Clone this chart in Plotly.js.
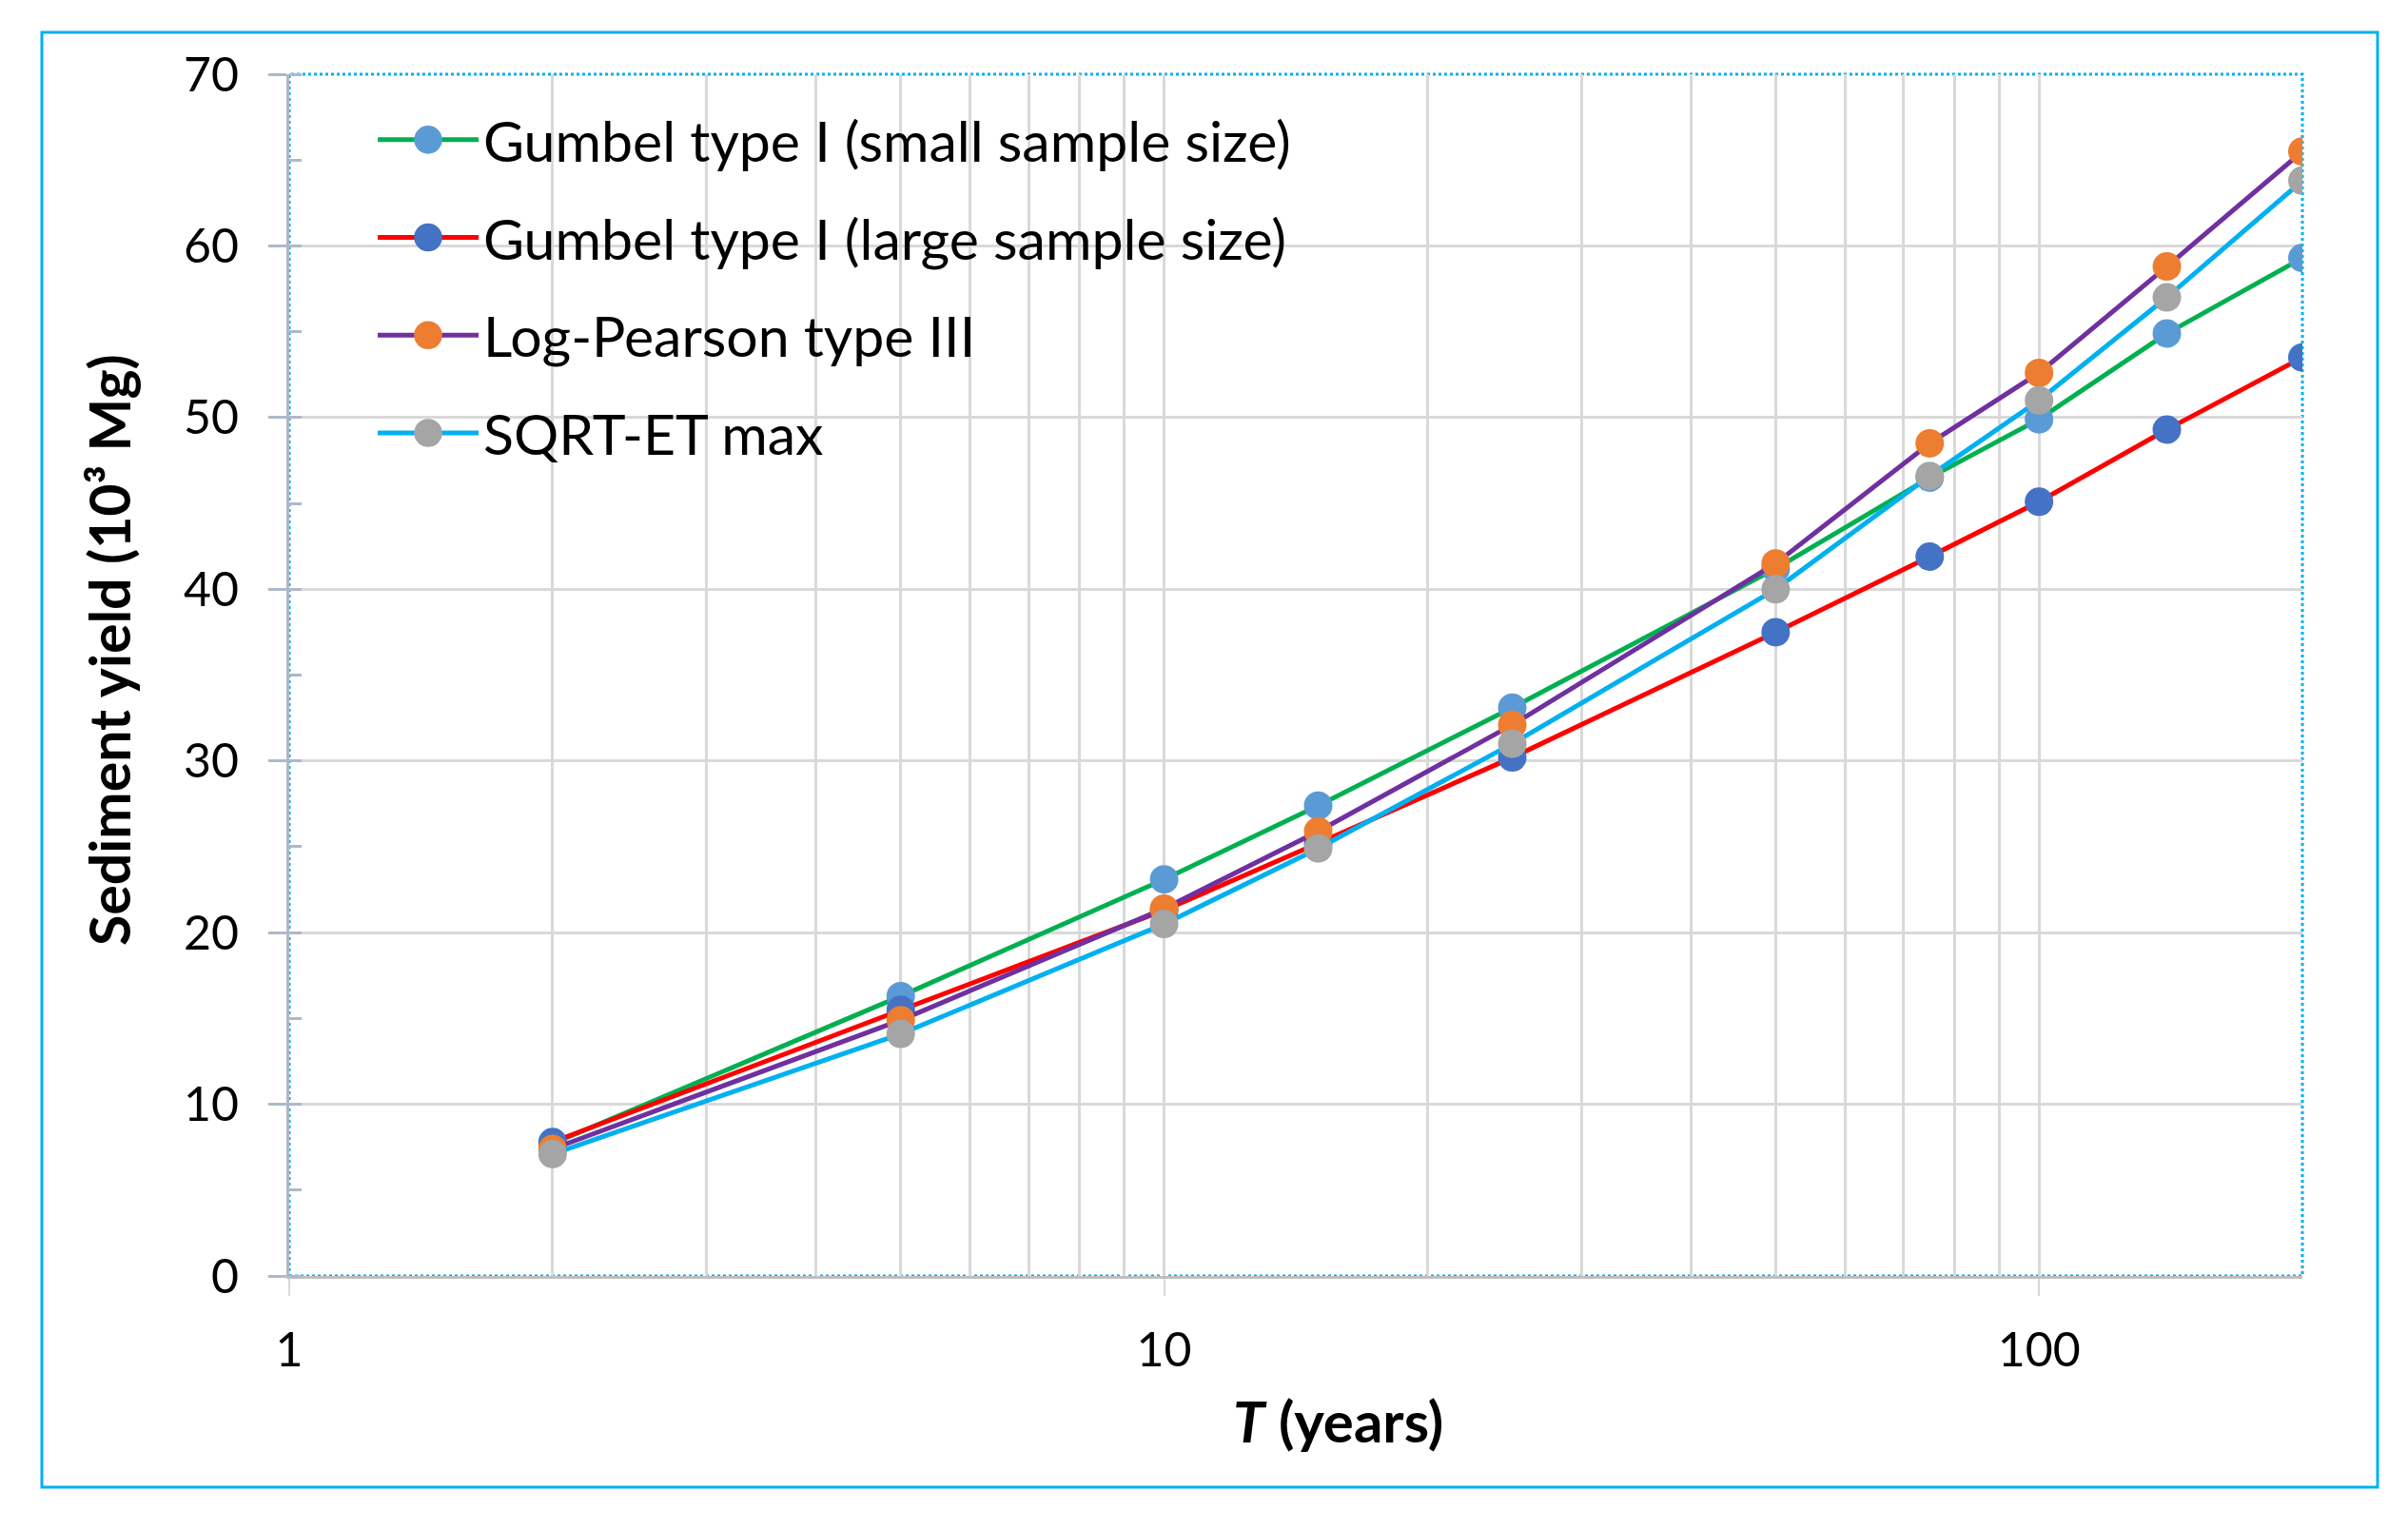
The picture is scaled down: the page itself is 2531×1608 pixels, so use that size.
<!DOCTYPE html>
<html>
<head>
<meta charset="utf-8">
<script src="https://cdn.plot.ly/plotly-3.0.1.min.js"></script>
<style>
  html, body { margin: 0; padding: 0; background: #fff; }
  #chart { width: 2531px; height: 1608px; }
</style>
</head>
<body>
<div id="chart"></div>
<script>
// Return period T (years)
const T = [2, 5, 10, 15, 25, 50, 75, 100, 140, 200];
// Sediment yield (10^3 Mg)
const gumbelSmall = [7.7, 16.3, 23.1, 27.4, 33.1, 41.2, 46.5, 49.9, 54.9, 59.3];
const gumbelLarge = [7.8, 15.5, 21.3, 25.2, 30.2, 37.5, 41.9, 45.1, 49.3, 53.5];
const logPearson  = [7.4, 14.9, 21.4, 25.9, 32.1, 41.5, 48.5, 52.6, 58.8, 65.5];
const sqrtEtMax   = [7.1, 14.1, 20.5, 24.9, 31.0, 40.0, 46.6, 51.0, 57.0, 63.8];

const seriesNames = [
  'Gumbel type I (small sample size)',
  'Gumbel type I (large sample size)',
  'Log-Pearson type III',
  'SQRT-ET max'
];
const seriesValues = [gumbelSmall, gumbelLarge, logPearson, sqrtEtMax];
const lineColors = ['#00B050', '#FF0000', '#7030A0', '#00B0F0'];
const markerColors = ['#5B9BD5', '#4472C4', '#ED7D31', '#A5A5A5'];

const FONT = 'Lato, "Open Sans", sans-serif';

const traces = seriesValues.map((vals, i) => ({
  type: 'scatter',
  mode: 'lines+markers',
  name: seriesNames[i],
  legendgroup: 'g' + i,
  x: T,
  y: vals,
  line: { color: lineColors[i], width: 5 },
  marker: { color: markerColors[i], size: 30, line: { width: 0 } }
}));

const W = 2531, H = 1608;
const mL = 304, mR = 111, mT = 78, mB = 267;
const pw = W - mL - mR, ph = H - mT - mB;
const px = v => (v - mL) / pw;
const py = v => (H - mB - v) / ph;

const layout = {
  width: W, height: H,
  paper_bgcolor: '#ffffff',
  plot_bgcolor: '#ffffff',
  margin: { l: mL, r: mR, t: mT, b: mB, pad: 0 },
  font: { family: FONT, color: '#000000', size: 50 },
  showlegend: true,
  legend: {
    x: px(392), y: py(102), xanchor: 'left', yanchor: 'top',
    bgcolor: 'rgba(255,255,255,0)', borderwidth: 0,
    font: { family: FONT, size: 59, color: '#000000' },
    traceorder: 'grouped', tracegroupgap: 23,
    itemwidth: 106
  },
  xaxis: {
    type: 'log',
    range: [0, Math.log10(200)],
    dtick: 1,
    tickformat: 'd',
    showgrid: true, gridcolor: '#D9D9D9', gridwidth: 3,
    minor: { dtick: 'D1', showgrid: true, gridcolor: '#D9D9D9', gridwidth: 3, ticks: '' },
    showline: true, linecolor: '#BFBFBF', linewidth: 3,
    ticks: 'outside', ticklen: 18, tickwidth: 2, tickcolor: '#D9D9D9',
    ticklabelstandoff: 14,
    tickfont: { family: FONT, size: 50, color: '#000' },
    zeroline: false
  },
  yaxis: {
    range: [0, 70],
    dtick: 10,
    showgrid: true, gridcolor: '#D9D9D9', gridwidth: 3,
    showline: true, linecolor: '#ADB9CA', linewidth: 3,
    ticks: 'outside', ticklen: 19, tickwidth: 3, tickcolor: '#ADB9CA',
    minor: { dtick: 5, ticks: 'inside', ticklen: 13, tickwidth: 3, tickcolor: '#ADB9CA', showgrid: false },
    ticklabelstandoff: 21,
    tickfont: { family: FONT, size: 50, color: '#000' },
    zeroline: false
  },
  annotations: [
    { xref: 'paper', yref: 'paper', x: px(1406), y: py(1493), xanchor: 'center', yanchor: 'middle',
      showarrow: false, text: '<b><i>T</i> (years)</b>',
      font: { family: FONT, size: 60, color: '#000' } },
    { xref: 'paper', yref: 'paper', x: px(114), y: py(683), xanchor: 'center', yanchor: 'middle',
      showarrow: false, textangle: -90, text: '<b>Sediment yield (10³ Mg)</b>',
      font: { family: FONT, size: 59, color: '#000' } }
  ],
  shapes: [
    // outer chart frame
    { type: 'rect', xref: 'paper', yref: 'paper', layer: 'above',
      x0: px(44), x1: px(2499), y0: py(1563), y1: py(34),
      line: { color: '#00B0F0', width: 3 } },
    // plot area dotted frame
    { type: 'rect', xref: 'paper', yref: 'paper', layer: 'below',
      x0: 0, x1: 1, y0: 0, y1: 1,
      line: { color: '#00B0F0', width: 3, dash: 'dot' } },
    // legend background (hides gridlines behind the legend)
    { type: 'rect', xref: 'x domain', yref: 'y domain', layer: 'below',
      x0: px(320), x1: px(1409), y0: py(510), y1: py(100),
      fillcolor: '#ffffff', line: { width: 0 } }
  ]
};

Plotly.newPlot('chart', traces, layout, { displayModeBar: false, staticPlot: true }).then(gd => {
  // enlarge legend markers to match the plotted marker size
  gd.querySelectorAll('.legend .legendpoints path.scatterpts').forEach(p => {
    const t = p.getAttribute('transform') || '';
    p.setAttribute('transform', t + ' scale(1.85)');
  });
});
</script>
</body>
</html>
